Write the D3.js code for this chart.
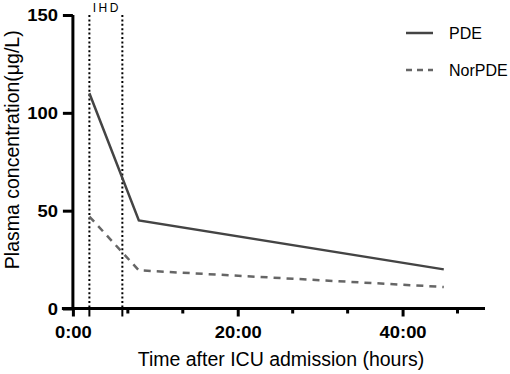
<!doctype html>
<html>
<head>
<meta charset="utf-8">
<script src="https://cdn.jsdelivr.net/npm/d3@7"></script>
<style>
  body { margin: 0; background: #fff; }
  svg { display: block; font-family: Arial, "Liberation Sans", sans-serif; }
</style>
</head>
<body>
<script>
// data
const hours = [2, 8, 45];
const pde = [110, 45, 20];
const norPde = [47, 19.5, 11];
const ihdWindow = [2, 6];
const seriesNames = ["PDE", "NorPDE"];
const yTicks = [0, 50, 100, 150];
const xMajor = [0, 20, 40];
const xMinor = [20 / 3, 40 / 3, 80 / 3, 100 / 3, 140 / 3];

const width = 510, height = 374;
const x = d3.scaleLinear().domain([0, 50]).range([72.9, 485]);
const y = d3.scaleLinear().domain([0, 150]).range([308.5, 15]);
const font = "Arial, 'Liberation Sans', sans-serif";

const svg = d3.select("body").append("svg")
    .attr("width", width)
    .attr("height", height);

const fmt = (d) => `${d}:00`;

// IHD window, dotted verticals
svg.append("g")
    .attr("stroke", "#000")
    .attr("stroke-width", 2)
  .selectAll("line")
  .data(ihdWindow)
  .join("line")
    .attr("x1", x).attr("x2", x)
    .attr("y1", y(150)).attr("y2", y(0))
    .attr("stroke-dasharray", "2,2.4");

svg.append("text")
    .attr("x", x(d3.mean(ihdWindow)) + 1)
    .attr("y", 12)
    .attr("text-anchor", "middle")
    .attr("font-size", 12)
    .attr("letter-spacing", 2.5)
    .text("IHD");

// series lines
const line = (vals) => d3.line()
    .x((d, i) => x(hours[i]))
    .y((d) => y(d))(vals);

svg.append("path")
    .attr("d", line(pde))
    .attr("fill", "none")
    .attr("stroke", "#444")
    .attr("stroke-width", 2.5);

svg.append("path")
    .attr("d", line(norPde))
    .attr("fill", "none")
    .attr("stroke", "#666")
    .attr("stroke-width", 2.5)
    .attr("stroke-dasharray", "7,6");

// y axis
const gy = svg.append("g")
    .attr("transform", `translate(${x(0)},0)`)
    .call(d3.axisLeft(y).tickValues(yTicks).tickSize(10).tickPadding(3))
    .attr("font-family", font);
gy.select(".domain").attr("stroke-width", 3).attr("d", `M0,${y(150)}V${y(0)}`);
gy.selectAll(".tick line").attr("stroke-width", 3);
gy.selectAll(".tick text")
    .attr("font-size", 16)
    .attr("font-weight", "bold")
    .attr("fill", "#000")
    .attr("transform", "scale(1.15,1)")
    .attr("dy", "0.36em");

// x axis
const gx = svg.append("g")
    .attr("transform", `translate(0,${y(0)})`)
    .call(d3.axisBottom(x).tickValues(xMajor).tickFormat(fmt).tickSize(8).tickPadding(10))
    .attr("font-family", font);
gx.select(".domain").attr("stroke-width", 3).attr("d", `M${x(0) - 11},0H${x(50)}`);
gx.selectAll(".tick line").attr("stroke-width", 3);
gx.selectAll(".tick text")
    .attr("font-size", 16)
    .attr("font-weight", "bold")
    .attr("fill", "#000")
    .attr("transform", "scale(1.15,1)");

// minor ticks and IHD marks below the axis
gx.append("g")
    .attr("stroke", "#000")
    .attr("stroke-width", 3)
  .selectAll("line")
  .data(xMinor)
  .join("line")
    .attr("x1", x).attr("x2", x)
    .attr("y1", 0).attr("y2", 5);

gx.append("g")
    .attr("stroke", "#000")
    .attr("stroke-width", 2)
  .selectAll("line")
  .data(ihdWindow)
  .join("line")
    .attr("x1", x).attr("x2", x)
    .attr("y1", 0).attr("y2", 8);

// axis titles
svg.append("text")
    .attr("x", (x(0) + x(50)) / 2 + 2)
    .attr("y", 366)
    .attr("text-anchor", "middle")
    .attr("font-size", 19.5)
    .text("Time after ICU admission (hours)");

svg.append("text")
    .attr("transform", `translate(19,${(y(0) + y(150)) / 2 - 12}) rotate(-90)`)
    .attr("text-anchor", "middle")
    .attr("font-size", 19.5)
    .text("Plasma concentration(μg/L)");

// legend
const legend = svg.append("g")
  .selectAll("g")
  .data(seriesNames)
  .join("g")
    .attr("transform", (d, i) => `translate(406,${33 + i * 37})`);

legend.append("line")
    .attr("x1", 0).attr("x2", 27)
    .attr("stroke", (d, i) => i ? "#666" : "#444")
    .attr("stroke-width", 2.5)
    .attr("stroke-dasharray", (d, i) => i ? "6,5" : null);

legend.append("text")
    .attr("x", 43)
    .attr("y", 6)
    .attr("font-size", 16)
    .text((d) => d);
</script>
</body>
</html>
